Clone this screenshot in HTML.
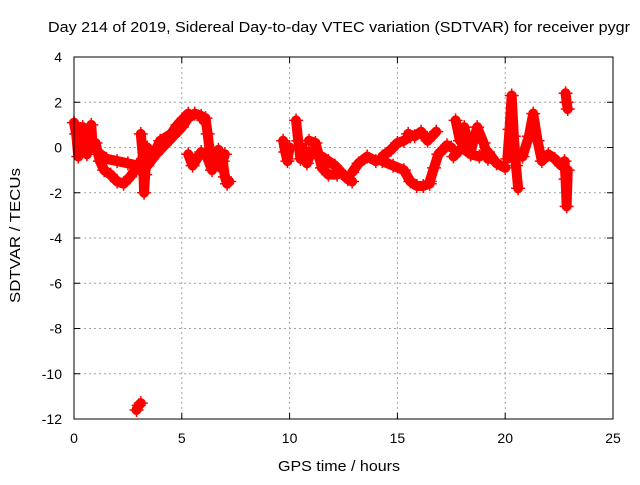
<!DOCTYPE html>
<html><head><meta charset="utf-8"><style>
body{margin:0;background:#fff}
svg text{font-family:"Liberation Sans",sans-serif;font-size:14px;fill:#000}
</style></head><body>
<svg id="chart" width="640" height="480">
<text x="48" y="32" textLength="582" lengthAdjust="spacingAndGlyphs" style="font-size:15px">Day 214 of 2019, Sidereal Day-to-day VTEC variation (SDTVAR) for receiver pygr</text>
<text x="278" y="471" textLength="122" lengthAdjust="spacingAndGlyphs" style="font-size:15px">GPS time / hours</text>
<text transform="translate(20,303) rotate(-90)" textLength="135" lengthAdjust="spacingAndGlyphs" style="font-size:15px">SDTVAR / TECUs</text>
<g id="grid"></g><g id="marks"></g>
<rect x="74" y="57" width="539" height="362" fill="none" stroke="#000" stroke-width="1"/>
</svg>
<script>
const xTicks=[0,5,10,15,20,25];
const yTicks=[4,2,0,-2,-4,-6,-8,-10,-12];
const seriesT=[
[0,0.1,0.2,0.3,0.4,0.5,0.6,0.7,0.8,0.85],
[1.0,1.2,1.4,1.7,2.0,2.3,2.6,2.9,3.1,3.3],
[1.1,1.5,2.0,2.5,3.0,3.2],
[3.1,3.2,3.25,3.3,3.4],
[3.4,3.8,4.2,4.6,5.0,5.3,5.6,5.9,6.0],
[3.6,4.0,4.5,4.8,5.1,5.3],
[5.3,5.5,5.7,5.9],
[6.1,6.2,6.3,6.5,6.7,6.9,7.0,7.1,7.2],
[6.2,6.4,6.6,6.8,7.0],
[2.9,3.0,3.1],
[9.7,9.8,9.9,10.0],
[10.3,10.4,10.5,10.6,10.8,11.0,11.2,11.5,11.8,12.1,12.4,12.7,12.9],
[10.9,11.2,11.5,11.8,12.2],
[12.9,13.2,13.6,14.0,14.3],
[14.3,14.7,15.0,15.3,15.6],
[14.3,14.8,15.3,15.6,15.9,16.2,16.5],
[15.5,15.8,16.1,16.4,16.8],
[16.5,16.7,16.9,17.1,17.3,17.5],
[17.7,17.9,18.1,18.4,18.7,19.0,19.2],
[17.6,18.0,18.4,18.8,19.2,19.6,20.0],
[20.1,20.2,20.3,20.4,20.5,20.6],
[20.8,21.1,21.3,21.5,21.7,22.0,22.3,22.6],
[22.8,22.85,22.9],
[22.75,22.8,22.85,22.9]
];
const seriesV=[
[1.1,0.6,-0.4,0.2,0.9,0.3,-0.3,0.5,1.0,0.3],
[0.2,-0.6,-1.0,-1.2,-1.5,-1.6,-1.3,-0.9,-0.6,-0.3],
[-0.2,-0.5,-0.6,-0.7,-0.8,-0.8],
[0.6,-0.5,-2.0,-1.2,0],
[-0.8,-0.3,0.1,0.5,0.9,1.3,1.5,1.4,1.2],
[-0.5,0.3,0.6,1.0,1.3,1.5],
[-0.3,-0.8,-0.5,-0.2],
[1.3,0.6,-0.2,-0.5,-0.1,-0.6,-1.3,-1.6,-1.5],
[-0.5,-1.0,-0.4,-0.9,-0.3],
[-11.6,-11.4,-11.3],
[0.3,-0.2,-0.6,0.0],
[1.2,0.3,-0.5,0.0,-0.7,-0.2,-0.3,-0.4,-0.6,-0.8,-1.1,-1.4,-1.5],
[0.3,0.2,-0.9,-1.2,-1.2],
[-1.1,-0.7,-0.4,-0.6,-0.5],
[-0.4,-0.1,0.2,0.3,0.5],
[-0.6,-0.8,-1.0,-1.5,-1.7,-1.7,-1.6],
[0.6,0.5,0.7,0.3,0.7],
[-1.5,-0.9,-0.3,-0.1,0.1,0.0],
[1.2,0.3,0.9,-0.2,0.9,0.2,-0.5],
[-0.4,0.0,-0.3,-0.4,-0.2,-0.7,-0.9],
[-0.5,0.8,2.3,0.5,-0.8,-1.8],
[-0.4,0.5,1.5,0.3,-0.6,-0.3,-0.5,-0.8],
[2.4,2.0,1.7],
[-0.6,-1.4,-2.6,-1.0]
];
const NS="http://www.w3.org/2000/svg";
const X0=74,X1=613,Y0=57,Y1=419;
function xs(t){return X0+(t-0)/(25-0)*(X1-X0);}
function ys(v){return Y0+(4-v)/(4-(-12))*(Y1-Y0);}
function mk(tag,attrs){const e=document.createElementNS(NS,tag);for(const k in attrs)e.setAttribute(k,attrs[k]);return e;}
const grid=document.getElementById('grid'),marks=document.getElementById('marks');
xTicks.forEach(t=>{
  const x=xs(t);
  if(t>0&&t<25){const l=mk('line',{x1:x,x2:x,y1:Y0,y2:Y1,stroke:'#a0a0a0','stroke-dasharray':'2,3'});
  
  grid.appendChild(l);}
  grid.appendChild(mk('line',{x1:x,x2:x,y1:Y1,y2:Y1-6,stroke:'#000'}));
  grid.appendChild(mk('line',{x1:x,x2:x,y1:Y0,y2:Y0+6,stroke:'#000'}));
  const tx=mk('text',{x:x,y:443,'text-anchor':'middle'});tx.textContent=t;
  
  grid.appendChild(tx);
});
yTicks.forEach(v=>{
  const y=ys(v);
  if(v<4&&v>-12){const l=mk('line',{x1:X0,x2:X1,y1:y,y2:y,stroke:'#a0a0a0','stroke-dasharray':'2,3'});
  
  grid.appendChild(l);}
  grid.appendChild(mk('line',{x1:X0,x2:X0+6,y1:y,y2:y,stroke:'#000'}));
  grid.appendChild(mk('line',{x1:X1,x2:X1-6,y1:y,y2:y,stroke:'#000'}));
  const tx=mk('text',{x:62,y:y+5,'text-anchor':'end'});tx.textContent=v;
  
  grid.appendChild(tx);
});
seriesT.forEach((ts,i)=>{
  const vs=seriesV[i];
  const pts=ts.map((t,j)=>xs(t)+','+ys(vs[j])).join(' ');
  const pl=mk('polyline',{points:pts,fill:'none',stroke:'#ff0000','stroke-width':10,'stroke-linejoin':'round','stroke-linecap':'round'});
  
  
  marks.appendChild(pl);
  ts.forEach((t,j)=>{
    const x=xs(t),y=ys(vs[j]);
    const p=mk('path',{d:`M${x-7},${y}h14M${x},${y-7}v14`,stroke:'#ff0000','stroke-width':1.5});
    
    
    marks.appendChild(p);
  });
});
</script>
</body></html>
